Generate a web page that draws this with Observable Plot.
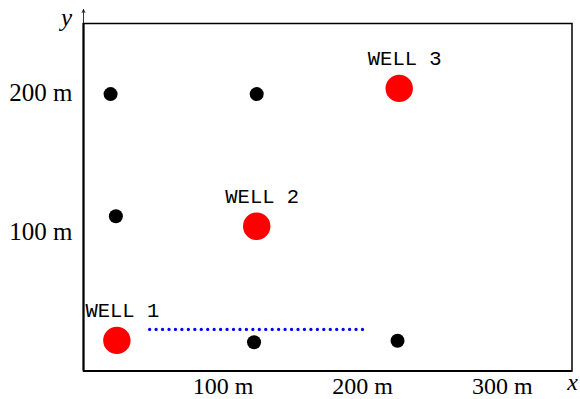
<!DOCTYPE html>
<html>
<head>
<meta charset="utf-8">
<script src="https://cdn.jsdelivr.net/npm/d3@7"></script>
<script src="https://cdn.jsdelivr.net/npm/@observablehq/plot@0.6"></script>
<style>
  html, body { margin: 0; padding: 0; background: #fff; }
</style>
</head>
<body>
<div id="chart"></div>
<script>
// Site extent (metres)
const xDomain = [0, 350];
const yDomain = [0, 250];

// Axis tick values (metres)
const xTicks = [100, 200, 300];
const yTicks = [100, 200];

// Observation points
const obsX = [19.4, 124.1, 23.2, 122.2, 225.0];
const obsY = [199.2, 199.2, 111.3, 20.7, 21.8];

// Pumping wells
const wellNames = ["WELL 1", "WELL 2", "WELL 3"];
const wellX = [23.9, 124.1, 226.2];
const wellY = [22.0, 104.1, 203.3];

// Dotted section near well 1
const sectionX = [47.4, 202.6];
const sectionY = [29.9, 29.9];

const observations = obsX.map((x, i) => ({x, y: obsY[i]}));
const wells = wellNames.map((name, i) => ({name, x: wellX[i], y: wellY[i]}));
const section = sectionX.map((x, i) => ({x, y: sectionY[i]}));

const serif = "'Liberation Serif', 'DejaVu Serif', serif";
const mono = "'Liberation Mono', 'DejaVu Sans Mono', monospace";

const chart = Plot.plot({
  width: 580,
  height: 399,
  marginLeft: 83,
  marginRight: 8.5,
  marginTop: 23,
  marginBottom: 28.5,
  x: {domain: xDomain},
  y: {domain: yDomain},
  style: {fontFamily: serif, background: "white", color: "black", overflow: "visible"},
  marks: [
    Plot.frame({stroke: "black", strokeWidth: 1.5}),
    Plot.ruleX([xDomain[0]], {stroke: "black", strokeWidth: 2}),
    Plot.ruleY([yDomain[0]], {stroke: "black", strokeWidth: 2}),
    // small arrow continuing the y axis above the frame
    Plot.arrow([0], {
      x1: xDomain[0], x2: xDomain[0],
      y1: yDomain[1], y2: yDomain[1] + 10,
      stroke: "black", strokeWidth: 0.8, headLength: 6, headAngle: 50
    }),
    Plot.axisX({
      ticks: xTicks, tickSize: 0, tickPadding: 6,
      tickFormat: d => `${d} m`, fontSize: 24, fontFamily: serif, label: null
    }),
    Plot.axisY({
      ticks: yTicks, tickSize: 0, tickPadding: 11,
      tickFormat: d => `${d} m`, fontSize: 25, fontFamily: serif, label: null
    }),
    Plot.text(["y"], {
      frameAnchor: "top-left", dx: -17, dy: -6,
      textAnchor: "middle", lineAnchor: "middle",
      fontStyle: "italic", fontSize: 25, fontFamily: serif
    }),
    Plot.text(["x"], {
      frameAnchor: "bottom-right", dx: 0.5, dy: 11,
      textAnchor: "middle", lineAnchor: "middle",
      fontStyle: "italic", fontSize: 24, fontFamily: serif
    }),
    Plot.line(section, {
      x: "x", y: "y", stroke: "#0000ff", strokeWidth: 3.3,
      strokeLinecap: "round", strokeDasharray: "0,6.45"
    }),
    Plot.dot(observations, {x: "x", y: "y", r: 7, fill: "black"}),
    Plot.dot(wells, {x: "x", y: "y", r: 13.7, fill: "#ff0000"}),
    Plot.text(wells, {
      x: "x", y: "y", text: "name",
      dx: 5.5, dy: -23.5, lineAnchor: "bottom", textAnchor: "middle",
      fontSize: 20.5, fontFamily: mono, fill: "black"
    })
  ]
});

document.getElementById("chart").appendChild(chart);
</script>
</body>
</html>
